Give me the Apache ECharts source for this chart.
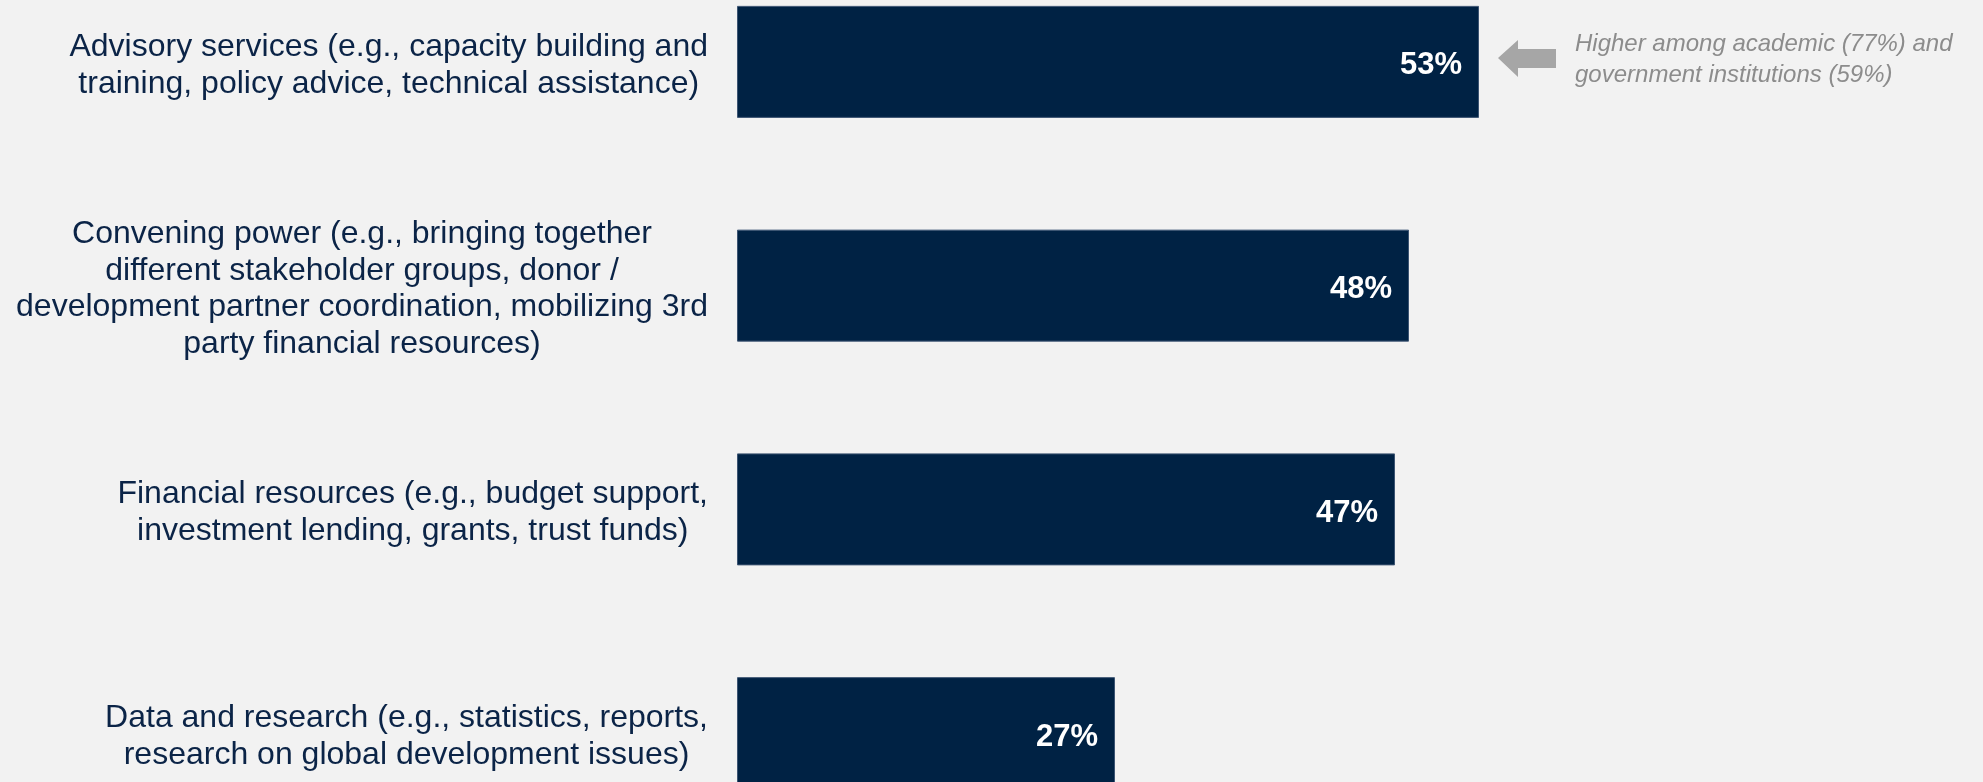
<!DOCTYPE html>
<html>
<head>
<meta charset="utf-8">
<script src="https://cdn.jsdelivr.net/npm/echarts@6/dist/echarts.min.js"></script>
<style>
  html, body { margin: 0; padding: 0; background: #f2f2f2; }
  #chart { width: 1983px; height: 782px; }
</style>
</head>
<body>
<div id="chart"></div>
<script>
// Categories (lines broken as displayed), top to bottom
const categories = [
  'Advisory services (e.g., capacity building and\ntraining, policy advice, technical assistance)',
  'Convening power (e.g., bringing together\ndifferent stakeholder groups, donor /\ndevelopment partner coordination, mobilizing 3rd\nparty financial resources)',
  'Financial resources (e.g., budget support,\ninvestment lending, grants, trust funds)',
  'Data and research (e.g., statistics, reports,\nresearch on global development issues)'
];

// Share of respondents (%)
const values = [53, 48, 47, 27];

// Side note next to the first bar
const noteText = 'Higher among academic (77%) and\ngovernment institutions (59%)';

const NAVY = '#002244';
const FONT = '"Liberation Sans", Arial, sans-serif';

const chart = echarts.init(document.getElementById('chart'), null, { renderer: 'canvas' });

chart.setOption({
  backgroundColor: '#f2f2f2',
  animation: false,
  grid: {
    left: 737, width: 1120, top: -50, height: 895,
    containLabel: false,
    outerBoundsMode: 'none'
  },
  xAxis: {
    type: 'value',
    min: 0,
    max: 80,
    show: false
  },
  yAxis: {
    type: 'category',
    data: categories,
    inverse: true,
    axisLine: { show: false },
    axisTick: { show: false },
    splitLine: { show: false },
    axisLabel: {
      margin: 29,
      align: 'right',
      padding: [7, 0, 0, 0],
      formatter: function (v) {
        return v.split('\n').map(function (l) { return '{c|' + l + '}'; }).join('\n');
      },
      rich: {
        c: {
          align: 'center',
          fontSize: 32,
          lineHeight: 36.7,
          color: '#0b2447',
          fontFamily: FONT
        }
      }
    }
  },
  series: [{
    type: 'bar',
    data: values,
    barWidth: 112,
    itemStyle: { color: NAVY, borderColor: '#3d5573', borderWidth: 1 },
    label: {
      show: true,
      position: 'insideRight',
      distance: 17,
      offset: [0, 4],
      formatter: '{c}%',
      color: '#ffffff',
      fontWeight: 'bold',
      fontSize: 31,
      fontFamily: FONT
    }
  }],
  graphic: [
    {
      type: 'polygon',
      shape: {
        points: [[1498, 58], [1518, 40], [1518, 49], [1556, 49], [1556, 68], [1518, 68], [1518, 77]]
      },
      style: { fill: '#a6a6a6' }
    },
    {
      type: 'text',
      x: 1575,
      y: 60,
      style: {
        text: noteText,
        fill: '#8c8c8c',
        font: 'italic 24px ' + FONT,
        lineHeight: 31.6,
        textAlign: 'left',
        textVerticalAlign: 'middle'
      }
    }
  ]
});
</script>
</body>
</html>
